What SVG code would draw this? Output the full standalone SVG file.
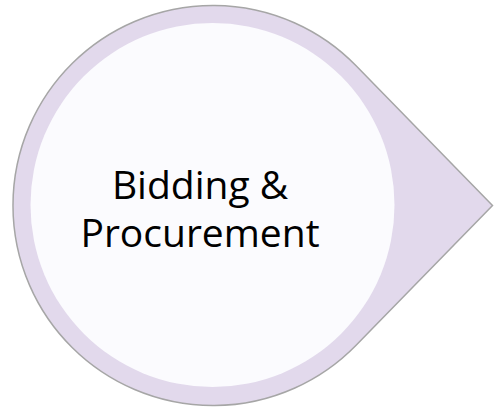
<svg xmlns="http://www.w3.org/2000/svg" width="494" height="408" viewBox="0 0 494 408">
  <style>
    .outer { fill: #E2D9EC; stroke: #A6A6A6; stroke-width: 1.5; stroke-linejoin: miter; }
    .inner { fill: #FBFBFE; stroke: none; }
    .label { font-family: "Open Sans", "Liberation Sans", sans-serif; font-size: 39px; fill: #000000; text-anchor: middle; }
  </style>
  <rect width="494" height="408" fill="#FFFFFF"/>
  <g id="node-bidding">
    <path class="outer" d="M 492.5 205.5 L 356.1 65.8 A 200 200 0 1 0 356.1 345.2 Z"/>
    <circle class="inner" cx="212.5" cy="205" r="182"/>
    <text class="label" x="200" y="199">Bidding &amp;</text>
    <text class="label" x="200" y="247">Procurement</text>
  </g>
  <g id="connectors"></g>
</svg>
